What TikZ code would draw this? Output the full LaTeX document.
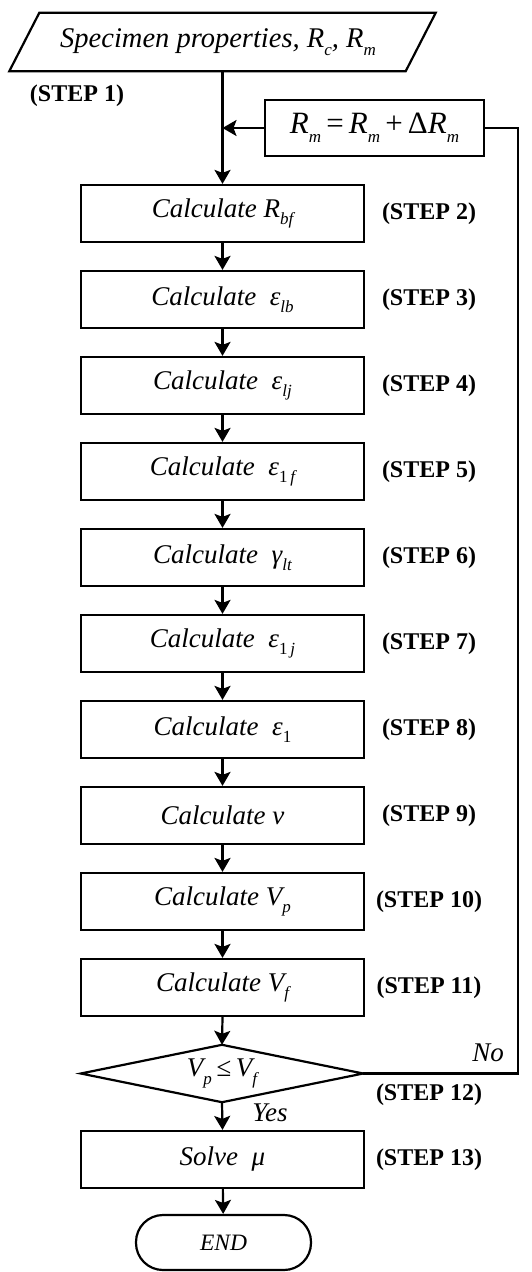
\documentclass[tikz,border=0pt]{standalone}
\usepackage{fontspec}
\setmainfont{Liberation Serif}
\usetikzlibrary{arrows.meta}
\newcommand\lw[1]{\raisebox{-0.28em}{\fontsize{17}{17}\selectfont\itshape #1}}
\begin{document}
\begin{tikzpicture}[x=1pt,y=-1pt,
  every node/.style={font=\fontsize{27}{30}\selectfont\itshape},
  proc/.style={draw,line width=2.2pt,minimum width=283pt,minimum height=57pt,inner sep=0pt},
  ghost/.style={inner sep=0pt},
  steplab/.style={font=\fontsize{24}{26}\selectfont\bfseries\upshape},
  arr/.style={line width=2.2pt,-{Stealth[length=14pt,width=16pt,inset=3pt]}},
  ln/.style={line width=2.2pt}]
\useasboundingbox (0,0) rectangle (532,1272);
% input
\node[ghost,minimum width=396pt,minimum height=58pt,font=\fontsize{28.5}{30}\selectfont\itshape] (in) at (218,42) {Specimen properties, \textit{R}\lw{c}, \textit{R}\lw{m}};
\draw[ln,line join=miter] ([xshift=19.5pt]in.north west) -- ([xshift=19.5pt]in.north east) -- ([xshift=-10.5pt]in.south east) -- ([xshift=-10.5pt]in.south west) -- cycle;
\node[steplab] (s1) at (77,96) {(STEP 1)};
% update box
\node[proc,minimum width=219pt,minimum height=56pt,font=\fontsize{31}{32}\selectfont] (rm) at (374.5,128) {\textit{R}\lw{m}\,=\,\textit{R}\lw{m}\,+\,Δ\textit{R}\lw{m}};
\coordinate (j) at (222.5,128);
% process boxes
\node[proc] (b2) at (222.5,213.5) {Calculate \textit{R}\lw{bf}};
\node[proc] (b3) at (222.5,299.5) {Calculate\ \ ε\lw{lb}};
\node[proc] (b4) at (222.5,385.5) {Calculate\ \ ε\lw{lj}};
\node[proc] (b5) at (222.5,471.5) {Calculate\ \ ε\lw{\upshape 1\,\itshape f}};
\node[proc] (b6) at (222.5,557.5) {Calculate\ \ γ\lw{lt}};
\node[proc] (b7) at (222.5,643.5) {Calculate\ \ ε\lw{\upshape 1\,\itshape j}};
\node[proc] (b8) at (222.5,729.5) {Calculate\ \ ε\lw{\upshape 1}};
\node[proc] (b9) at (222.5,815.5) {Calculate ν};
\node[proc] (b10) at (222.5,901.5) {Calculate \textit{V}\lw{p}};
\node[proc] (b11) at (222.5,987.5) {Calculate \textit{V}\lw{f}};
% decision
\node[ghost,minimum width=282pt,minimum height=57pt] (dia) at (222,1073.5) {\textit{V}\lw{p}\,≤\,\textit{V}\lw{f}};
\draw[ln,line join=miter] (dia.north) -- (dia.east) -- (dia.south) -- (dia.west) -- cycle;
\node[proc] (b13) at (222.5,1159.5) {Solve\ \ μ};
\node[draw,line width=2.2pt,minimum width=175pt,minimum height=55pt,rounded corners=27pt,inner sep=0pt,font=\fontsize{23.5}{25}\selectfont\itshape] (end) at (223.5,1242.5) {END};
% step labels
\node[steplab] (s2) at (429,213.5) {(STEP 2)};
\node[steplab] (s3) at (429,299.5) {(STEP 3)};
\node[steplab] (s4) at (429,385.5) {(STEP 4)};
\node[steplab] (s5) at (429,471.5) {(STEP 5)};
\node[steplab] (s6) at (429,557.5) {(STEP 6)};
\node[steplab] (s7) at (429,643.5) {(STEP 7)};
\node[steplab] (s8) at (429,729.5) {(STEP 8)};
\node[steplab] (s9) at (429,815.5) {(STEP 9)};
\node[steplab] (s10) at (429,901.5) {(STEP 10)};
\node[steplab] (s11) at (429,987.5) {(STEP 11)};
\node[steplab] (s12) at (429,1095) {(STEP 12)};
\node[steplab] (s13) at (429,1159.5) {(STEP 13)};
\node (no) at (488,1053) {No};
\node (yes) at (270,1113) {Yes};
% connectors
\draw[arr] (j |- in.south) -- (b2.north);
\draw[arr] (rm.west) -- (j);
\draw[arr] (b2) -- (b3);
\draw[arr] (b3) -- (b4);
\draw[arr] (b4) -- (b5);
\draw[arr] (b5) -- (b6);
\draw[arr] (b6) -- (b7);
\draw[arr] (b7) -- (b8);
\draw[arr] (b8) -- (b9);
\draw[arr] (b9) -- (b10);
\draw[arr] (b10) -- (b11);
\draw[arr] (b11.south) -- (dia.north);
\draw[arr] (dia.south) -- (b13.north);
\draw[arr] (b13) -- (end);
\coordinate (c1) at (518,1073.5);
\coordinate (c2) at (518,128);
\draw[ln,line join=miter] (dia.east) -- (c1) -- (c2) -- (rm.east);
\end{tikzpicture}
\end{document}
